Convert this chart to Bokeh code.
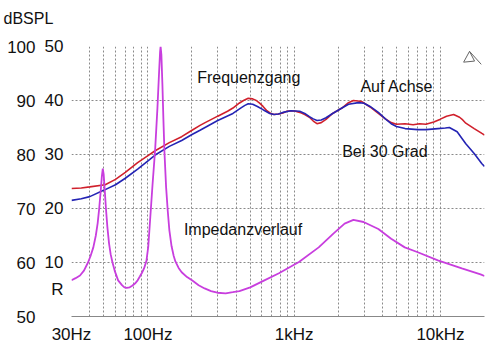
from bokeh.plotting import figure
from bokeh.models import (Range1d, LinearAxis, LogAxis, FixedTicker, Label)
from bokeh.embed import file_html
from bokeh.resources import INLINE

# ---- data ----
red_f = [30, 35, 40, 51, 60, 70, 85, 100, 112, 140, 170, 200, 227, 246, 300, 350, 381, 420, 450,
         485, 520, 550, 580, 612, 650, 690, 728, 780, 837, 890, 949, 1020, 1090, 1180, 1270,
         1350, 1430, 1530, 1650, 1830, 2120, 2350, 2540, 2900, 3300, 3760, 4200, 4600, 5000,
         5730, 6500, 7200, 7960, 9000, 9900, 11000, 12300, 13500, 14200, 14900, 17000, 19200,
         20000]
red_db = [73.7, 73.8, 74.0, 74.4, 75.4, 76.7, 78.5, 79.8, 80.7, 82.2, 83.3, 84.5, 85.4, 85.9, 87.1,
          88.0, 88.6, 89.5, 90.0, 90.4, 90.3, 90.0, 89.5, 88.9, 88.1, 87.6, 87.4, 87.5, 87.7,
          88.0, 88.1, 88.0, 87.8, 87.4, 86.9, 86.2, 85.7, 85.9, 86.5, 87.6, 88.6, 89.6, 90.0,
          89.8, 88.8, 87.6, 86.6, 85.9, 85.6, 85.7, 85.5, 85.7, 85.6, 86.0, 86.5, 87.1, 87.4,
          86.9, 86.4, 85.8, 84.8, 83.9, 83.6]

blue_f = [30, 35, 40, 51, 60, 70, 85, 100, 112, 140, 170, 200, 227, 300, 381, 430, 460, 485, 520,
          560, 612, 680, 728, 780, 837, 949, 1090, 1180, 1270, 1350, 1430, 1530, 1650, 1830,
          2120, 2350, 2750, 3000, 3300, 3760, 4200, 4600, 5000, 5730, 7000, 7960, 9600, 10800,
          11500, 13000, 14900, 17000, 19200, 20000]
blue_db = [71.5, 71.8, 72.2, 73.5, 74.4, 75.6, 77.3, 78.8, 79.9, 81.5, 82.6, 83.7, 84.5, 86.3,
           87.6, 88.6, 89.1, 89.4, 89.3, 88.9, 88.3, 87.6, 87.4, 87.5, 87.8, 88.1, 88.0, 87.6,
           87.0, 86.6, 86.3, 86.4, 86.8, 87.6, 88.6, 89.3, 89.6, 89.5, 88.9, 87.8, 86.6, 85.7,
           85.2, 84.8, 84.6, 84.6, 84.8, 84.9, 85.0, 84.2, 82.0, 80.2, 78.3, 77.8]

imp_f = [30, 32, 34.3, 36.5, 38.9, 40.5, 42.3, 44, 45.3, 46.4, 47.5, 48.4, 49.1, 49.8, 50.6, 51.6,
         52.8, 54.2, 55.6, 57.2, 59.5, 62.5, 66.4, 69, 71.5, 75, 78, 81.5, 85, 88, 91, 94, 97.6,
         100.5, 103.5, 107.5, 112, 116, 119, 121, 122, 123.5, 125.5, 127.5, 129.6, 133, 136.6,
         140, 145, 150, 154, 162, 170, 185, 200, 222, 244, 270, 298, 340, 380, 422, 500, 625,
         786, 1077, 1470, 1860, 2210, 2540, 2980, 3760, 4600, 5700, 7000, 9600, 14000, 18800,
         20000]
imp_r = [6.7, 7.1, 7.6, 8.5, 10.0, 11.2, 12.8, 15.0, 17.3, 20.0, 23.2, 26.0, 27.4, 26.3, 23.5,
         20.0, 16.5, 13.5, 11.5, 10.0, 8.3, 6.7, 5.8, 5.4, 5.3, 5.4, 5.7, 6.1, 6.7, 7.4, 8.1,
         8.9, 10.3, 13.0, 18.0, 24.5, 31.0, 38.5, 45.0, 49.0, 50.0, 48.5, 43.0, 36.5, 30.5,
         24.0, 19.5, 16.0, 13.0, 11.2, 10.2, 9.0, 8.2, 7.3, 6.7, 5.8, 5.2, 4.7, 4.4, 4.3, 4.5,
         4.7, 5.4, 6.7, 8.0, 10.1, 12.8, 15.4, 17.2, 17.9, 17.5, 16.2, 14.4, 12.8, 11.9, 10.4,
         8.9, 7.8, 7.5]

x_ticks = [30, 100, 1000, 10000]
x_tick_labels = ["30Hz", "100Hz", "1kHz", "10kHz"]
x_grid = [30, 40, 50, 60, 70, 80, 90, 100, 200, 300, 400, 500, 600, 700, 800, 900,
          1000, 2000, 3000, 4000, 5000, 6000, 7000, 8000, 9000, 10000, 20000]
db_ticks = [50, 60, 70, 80, 90, 100]
r_ticks = [5, 10, 20, 30, 40, 50]
r_tick_labels = ["R", "10", "20", "30", "40", "50"]

# annotation positions (frequency, dB)
labels = [("Frequenzgang", 217, 94.3), ("Auf Achse", 2835, 92.6),
          ("Bei 30 Grad", 2127, 80.6), ("Impedanzverlauf", 176, 66.2)]
icon_f = [14400, 15800, 17100, 14400]
icon_db = [97.1, 99.1, 97.3, 97.1]
icon_line_f = [15800, 19000]
icon_line_db = [99.1, 96.7]

FONT = "Liberation Sans"

p = figure(width=495, height=362, x_axis_type="log", x_range=Range1d(30, 20000),
           y_range=Range1d(50, 100), output_backend="svg", toolbar_location=None,
           y_axis_location=None, x_axis_location=None,
           min_border_left=71, min_border_right=11, min_border_top=46, min_border_bottom=46)
p.extra_y_ranges = {"imp": Range1d(0, 50)}
p.outline_line_color = None
p.background_fill_color = "white"
p.border_fill_color = "white"

p.title.text = "dBSPL\n "
p.title.align = "left"
p.title.vertical_align = "top"
p.title.offset = -68
p.title.standoff = 2
p.title.text_font = FONT
p.title.text_font_size = "16px"
p.title.text_font_style = "normal"
p.title.text_color = "#111111"

# axes
xa = LogAxis(ticker=FixedTicker(ticks=x_ticks),
             major_label_overrides={t: l for t, l in zip(x_ticks, x_tick_labels)})
xa.axis_line_color = "#888888"
xa.major_tick_line_color = None
xa.minor_tick_line_color = None
xa.major_label_standoff = 2
xa.major_label_text_font = FONT
xa.major_label_text_font_size = "17px"
xa.major_label_text_color = "#111111"
p.add_layout(xa, "below")

ra = LinearAxis(y_range_name="imp", ticker=FixedTicker(ticks=r_ticks),
                major_label_overrides={t: l for t, l in zip(r_ticks, r_tick_labels)})
da = LinearAxis(ticker=FixedTicker(ticks=db_ticks))
for ax in (ra, da):
    ax.axis_line_color = None
    ax.major_tick_line_color = None
    ax.minor_tick_line_color = None
    ax.major_label_text_font = FONT
    ax.major_label_text_font_size = "17px"
    ax.major_label_text_color = "#111111"
ra.major_label_standoff = 2
da.major_label_standoff = 0
p.add_layout(ra, "left")
p.add_layout(da, "left")

# grids
p.xgrid.ticker = FixedTicker(ticks=x_grid)
p.ygrid.ticker = FixedTicker(ticks=[60, 70, 80, 90, 100])
for g in (p.xgrid, p.ygrid):
    g.grid_line_color = "#8a8a8a"
    g.grid_line_dash = "2 2"
    g.grid_line_width = 1

# curves
p.line(red_f, red_db, color="#d0202c", line_width=1.6)
p.line(blue_f, blue_db, color="#2424b4", line_width=1.6)
p.line(imp_f, imp_r, color="#c83ede", line_width=1.8, y_range_name="imp")

# icon
p.line(icon_f, icon_db, color="#666666", line_width=1)
p.line(icon_line_f, icon_line_db, color="#666666", line_width=1)

for txt, f, db in labels:
    p.add_layout(Label(x=f, y=db, text=txt, text_font=FONT, text_font_size="16px",
                       text_baseline="alphabetic", text_color="#111111"))

open("out.html", "w").write(file_html(p, INLINE))
